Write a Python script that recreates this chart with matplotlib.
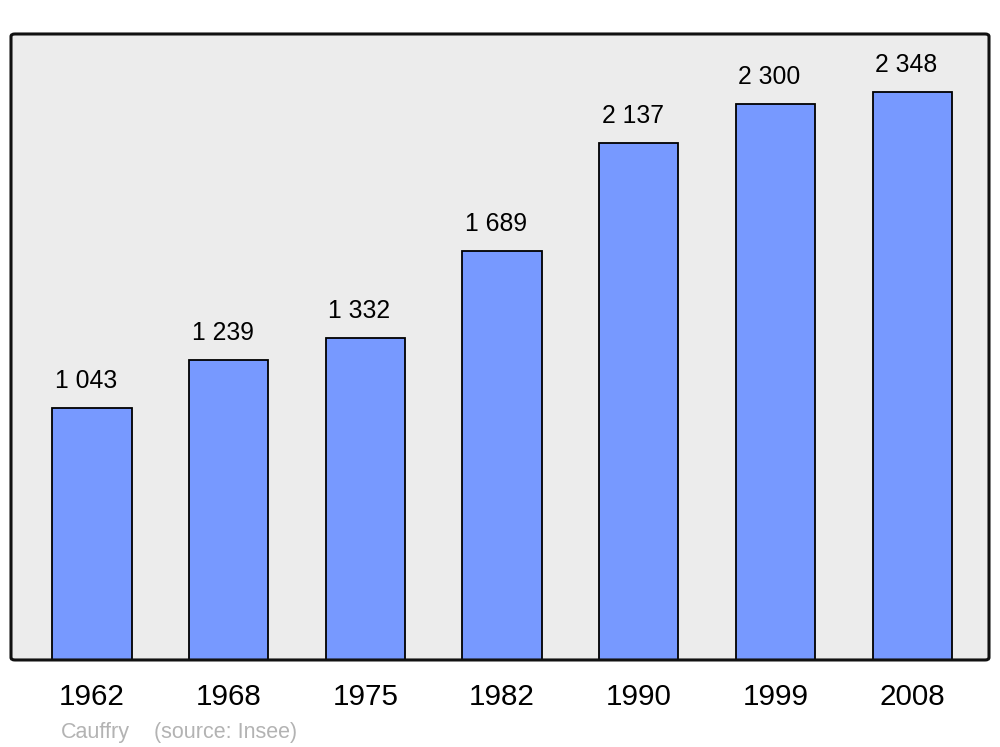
import matplotlib
matplotlib.use("Agg")
import matplotlib.pyplot as plt
from matplotlib.patches import FancyBboxPatch

plt.rcParams['font.family'] = ['Liberation Sans', 'DejaVu Sans']

years = ["1962", "1968", "1975", "1982", "1990", "1999", "2008"]
population = [1043, 1239, 1332, 1689, 2137, 2300, 2348]
value_labels = ["1 043", "1 239", "1 332", "1 689", "2 137", "2 300", "2 348"]
commune = "Cauffry"
source = "(source: Insee)"

fig = plt.figure(figsize=(10, 7.47), dpi=100)
ax = fig.add_axes([0.011, 0.1165, 0.978, 0.838])
ax.set_facecolor('#ececec')

x = list(range(len(years)))
ax.bar(x, population, width=0.58, color='#7799ff', edgecolor='black', linewidth=1.3, zorder=2)

for xi, v, lab in zip(x, population, value_labels):
    ax.annotate(lab, xy=(xi, v), xytext=(-4.3, 14.5), textcoords='offset points',
                ha='center', va='baseline', fontsize=17.8, color='black')

ax.set_xlim(-0.593, 6.562)
ax.set_ylim(0, 2588)
ax.set_yticks([])
ax.set_xticks(x)
ax.set_xticklabels(years, fontsize=21.3)
ax.tick_params(axis='x', length=0, pad=16.5)
for s in ax.spines.values():
    s.set_visible(False)

frame = FancyBboxPatch((0, 0), 1, 1, boxstyle="round,pad=0,rounding_size=0.004",
                       transform=ax.transAxes, facecolor='none', edgecolor='#111111',
                       linewidth=2.2, zorder=5, clip_on=False)
ax.add_patch(frame)

fig.text(0.061, 0.012, commune, fontsize=15.5, color='#b3b3b3', va='baseline')
fig.text(0.154, 0.012, source, fontsize=15.5, color='#b3b3b3', va='baseline')

fig.savefig("out.png", dpi=100, facecolor='white')
